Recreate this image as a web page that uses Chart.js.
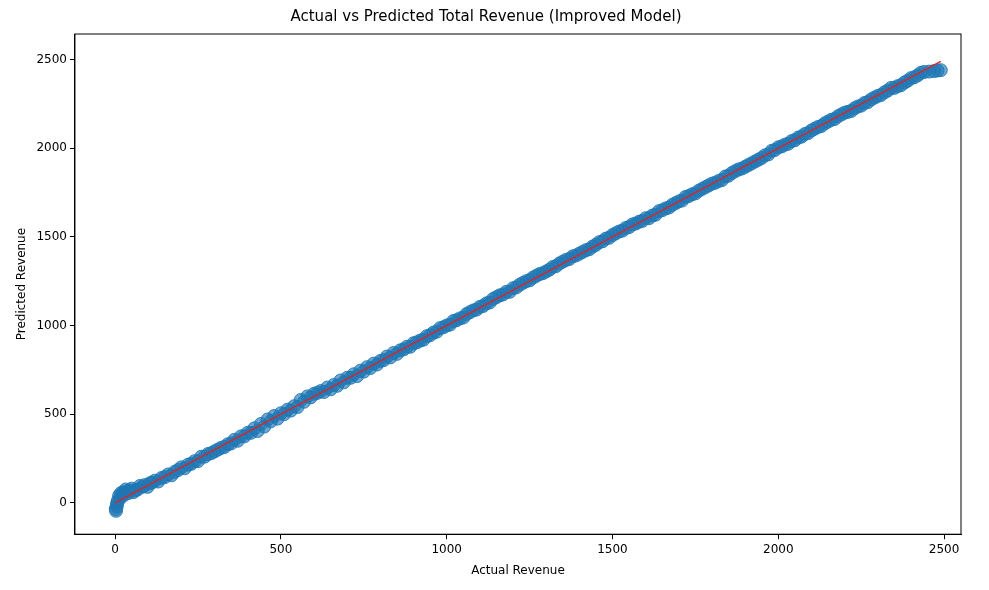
<!DOCTYPE html>
<html>
<head>
<meta charset="utf-8">
<script src="https://cdn.jsdelivr.net/npm/chart.js@4"></script>
<style>
  body { margin: 0; background: #fff; }
  #wrap { width: 989px; height: 590px; }
</style>
</head>
<body>
<div id="wrap"><canvas id="chart"></canvas></div>
<script>
// values
var actual = [2,5,8,12,18,25,32,40,50,60,75,90,105,120,140,160,180,200,220,240,260,280,300,320,340,360,380,400,420,440,460,480,500,520,540,560,580,600,620,640,660,680,700,720,740,760,780,800,820,840,860,880,900,920,940,960,980,1000,1020,1040,1060,1080,1100,1120,1140,1160,1180,1200,1220,1240,1260,1280,1300,1320,1340,1360,1380,1400,1420,1440,1460,1480,1500,1520,1540,1560,1580,1600,1620,1640,1660,1680,1700,1720,1740,1760,1780,1800,1820,1840,1860,1880,1900,1920,1940,1960,1980,2000,2020,2040,2060,2080,2100,2120,2140,2160,2180,2200,2220,2240,2260,2280,2300,2320,2340,2360,2380,2400,2420,2440,2470,2490]
var predicted = [-35,-20,10,40,55,60,75,55,80,70,95,100,110,125,140,160,175,200,215,235,260,275,290,310,330,355,375,395,420,445,470,490,505,525,545,580,600,615,630,650,665,690,705,725,745,765,785,800,825,845,860,880,900,915,940,960,985,1000,1025,1040,1065,1085,1105,1125,1150,1170,1190,1210,1230,1250,1270,1290,1305,1330,1350,1370,1390,1405,1425,1445,1470,1490,1510,1530,1550,1570,1585,1605,1620,1645,1660,1680,1700,1725,1740,1760,1780,1800,1815,1840,1860,1880,1895,1915,1935,1960,1985,2005,2020,2040,2060,2080,2100,2120,2140,2160,2180,2200,2210,2235,2255,2275,2295,2315,2340,2350,2370,2395,2410,2430,2435,2440]
// second pass of points between the first ones
var actual2 = [3,6,15,22,28,36,45,55,68,82,98,112,130,150,170,190,210,230,250,270,290,310,330,350,370,390,410,430,450,470,490,510,530,550,570,590,610,630,650,670,690,710,730,750,770,790,810,830,850,870,890,910,930,950,970,990,1010,1030,1050,1070,1090,1110,1130,1150,1170,1190,1210,1230,1250,1270,1290,1310,1330,1350,1370,1390,1410,1430,1450,1470,1490,1510,1530,1550,1570,1590,1610,1630,1650,1670,1690,1710,1730,1750,1770,1790,1810,1830,1850,1870,1890,1910,1930,1950,1970,1990,2010,2030,2050,2070,2090,2110,2130,2150,2170,2190,2210,2230,2250,2270,2290,2310,2330,2350,2370,2390,2410,2430,2455,2480]
var predicted2 = [-45,-5,25,50,45,65,70,60,75,90,90,115,120,145,155,185,195,220,235,260,280,300,315,335,350,375,395,405,430,460,475,500,520,540,570,595,620,625,640,660,680,705,715,740,760,780,805,820,840,865,880,905,920,945,965,990,1005,1030,1045,1075,1090,1110,1130,1160,1175,1190,1215,1240,1255,1280,1295,1315,1335,1360,1375,1395,1415,1430,1455,1475,1495,1520,1535,1555,1575,1590,1605,1625,1650,1665,1690,1705,1730,1745,1770,1790,1805,1820,1845,1870,1885,1905,1925,1945,1965,1990,2010,2025,2045,2065,2085,2110,2125,2150,2165,2190,2205,2225,2240,2260,2285,2300,2325,2340,2355,2380,2400,2425,2432,2438]
var lineX = [0, 2490]
var lineY = [0, 2490]
var tickVals = [0, 500, 1000, 1500, 2000, 2500]

function toPts(xs, ys){ return xs.map(function(a, i){ return {x: a, y: ys[i]} }) }
var pts = toPts(actual, predicted).concat(toPts(actual2, predicted2))

var tickFont = { family: 'DejaVu Sans', size: 12 }
function fixTicks(ax){ ax.ticks = tickVals.map(function(v){ return {value: v} }) }

new Chart(document.getElementById('chart').getContext('2d'), {
    type: 'scatter',
    data: {
        datasets: [
            {
                data: toPts(lineX, lineY),
                type: 'line',
                borderColor: '#d62728',
                borderWidth: 1.5,
                pointRadius: 0,
                fill: false,
                order: 0
            },
            {
                data: pts,
                backgroundColor: 'rgba(31,119,180,0.65)',
                borderColor: 'rgba(31,119,180,0.85)',
                borderWidth: 1,
                pointRadius: 6.5,
                order: 1
            }
        ]
    },
    options: {
        responsive: true,
        maintainAspectRatio: false,
        animation: { duration: 0 },
        layout: { padding: { left: 11, right: 28, top: 0, bottom: 8 } },
        plugins: {
            legend: { display: false },
            tooltip: { enabled: false },
            title: {
                display: true,
                text: 'Actual vs Predicted Total Revenue (Improved Model)',
                color: '#000',
                font: { family: 'DejaVu Sans', size: 15, weight: 'normal' },
                padding: { top: 8, bottom: 8 }
            }
        },
        scales: {
            x: {
                type: 'linear', min: -121, max: 2551,
                grid: { drawOnChartArea: false, color: '#000', tickLength: 5 },
                border: { color: '#000' },
                ticks: { color: '#000', font: tickFont, callback: function(v){ return String(v) } },
                afterBuildTicks: fixTicks,
                title: { display: true, text: 'Actual Revenue', color: '#000', font: tickFont }
            },
            y: {
                type: 'linear', min: -177, max: 2644,
                grid: { drawOnChartArea: false, color: '#000', tickLength: 5 },
                border: { color: '#000' },
                ticks: { color: '#000', font: tickFont, callback: function(v){ return String(v) } },
                afterBuildTicks: fixTicks,
                title: { display: true, text: 'Predicted Revenue', color: '#000', font: tickFont }
            }
        }
    },
    plugins: [{
        id: 'frame',
        afterDraw: function(c){
            var a = c.chartArea, ctx = c.ctx
            ctx.save(); ctx.strokeStyle = '#000'; ctx.lineWidth = 1
            ctx.strokeRect(a.left, a.top, a.right - a.left, a.bottom - a.top)
            ctx.restore()
        }
    }]
})
</script>
</body>
</html>
